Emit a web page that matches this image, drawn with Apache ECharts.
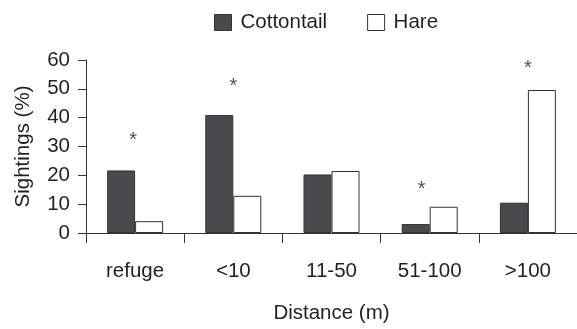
<!DOCTYPE html>
<html>
<head>
<meta charset="utf-8">
<script src="https://cdn.jsdelivr.net/npm/echarts@6/dist/echarts.min.js"></script>
<style>html,body{margin:0;padding:0;background:#fff;}#c{width:577px;height:329px;}</style>
</head>
<body>
<div id="c"></div>
<script>
const categories = ['refuge', '<10', '11-50', '51-100', '>100'];
const cottontail = [21.7, 40.9, 20.3, 3.1, 10.5];
const hare = [4.1, 12.9, 21.5, 9.1, 49.6];
const asterisks = [33, 52, null, 16, 58];
const yTicks = [0, 10, 20, 30, 40, 50, 60];

const FONT = '"Liberation Sans", Arial, sans-serif';
const TXT = '#231f20';
const LINE = '#333333';

const chart = echarts.init(document.getElementById('c'), null, {renderer: 'canvas'});
chart.setOption({
  animation: false,
  backgroundColor: '#ffffff',
  textStyle: {fontFamily: FONT, color: TXT},
  legend: {
    left: 209, top: 7,
    itemWidth: 17, itemHeight: 16, itemGap: 40,
    textStyle: {fontFamily: FONT, fontSize: 20.5, color: TXT, padding: [0, 0, 0, 4]},
    data: [
      {name: 'Cottontail', icon: 'rect', itemStyle: {color: '#4a4a4c', borderColor: LINE, borderWidth: 1}},
      {name: 'Hare', icon: 'rect', itemStyle: {color: '#ffffff', borderColor: LINE, borderWidth: 1}}
    ]
  },
  grid: {left: 86, top: 60, width: 492, height: 174, containLabel: false},
  xAxis: {
    type: 'category',
    data: categories,
    name: 'Distance (m)',
    nameLocation: 'middle',
    nameGap: 70,
    nameTextStyle: {fontFamily: FONT, fontSize: 20.5, color: TXT},
    axisLine: {lineStyle: {color: LINE, width: 1}},
    axisTick: {show: true, length: 10, lineStyle: {color: LINE, width: 1}, alignWithLabel: false},
    axisLabel: {fontFamily: FONT, fontSize: 20.5, color: TXT, margin: 28},
    splitLine: {show: false}
  },
  yAxis: {
    type: 'value',
    min: 0, max: 60, interval: 10,
    name: 'Sightings (%)',
    nameLocation: 'middle',
    nameGap: 52,
    nameRotate: 90,
    nameTextStyle: {fontFamily: FONT, fontSize: 20.5, color: TXT},
    axisLine: {show: true, lineStyle: {color: LINE, width: 1}},
    axisTick: {show: true, length: 8, lineStyle: {color: LINE, width: 1}},
    axisLabel: {fontFamily: FONT, fontSize: 20.5, color: TXT, margin: 16,
      formatter: v => yTicks.includes(v) ? String(v) : ''},
    splitLine: {show: false}
  },
  series: [
    {
      name: 'Cottontail', type: 'bar', data: cottontail,
      barWidth: 28, barGap: '0%',
      itemStyle: {color: '#4a4a4c', borderColor: LINE, borderWidth: 1}
    },
    {
      name: 'Hare', type: 'bar', data: hare,
      barWidth: 28, barGap: '0%',
      itemStyle: {color: '#ffffff', borderColor: LINE, borderWidth: 1}
    },
    {
      name: 'sig', type: 'scatter', data: asterisks.map((v, i) => ({
        value: v,
        label: {offset: [i === 3 ? -8 : (i === 0 ? -2 : 0), 3]}
      })),
      symbolSize: 1, itemStyle: {color: 'rgba(0,0,0,0)'},
      silent: true,
      label: {show: true, formatter: '*', position: 'inside', fontFamily: FONT, fontSize: 20, color: TXT}
    }
  ]
});
</script>
</body>
</html>
